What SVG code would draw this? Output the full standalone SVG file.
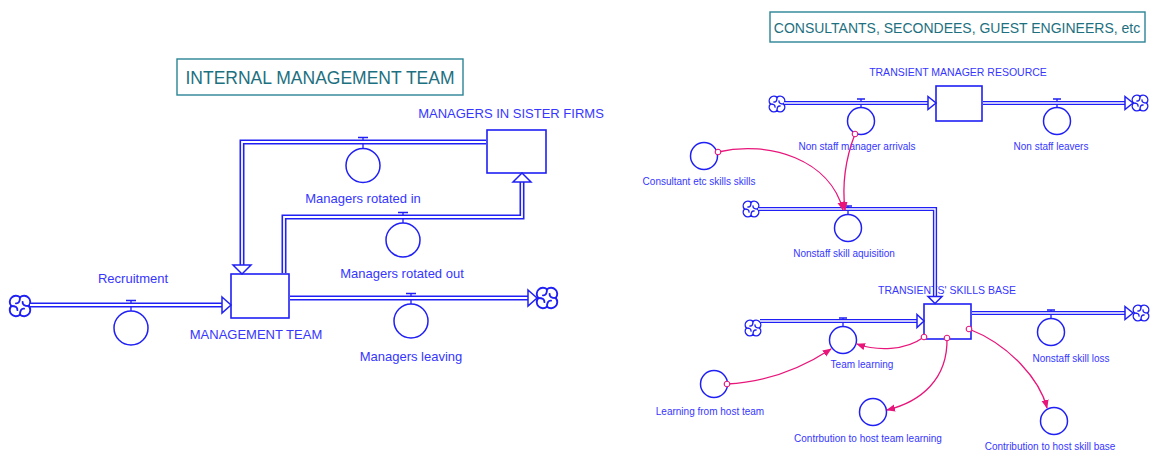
<svg xmlns="http://www.w3.org/2000/svg" xmlns:xlink="http://www.w3.org/1999/xlink" width="1152" height="453" viewBox="0 0 1152 453">
  <style>
    .lbl { font-family: "Liberation Sans", Arial, sans-serif; fill: #3636ff; text-anchor: middle; }
    .big { font-size: 13px; }
    .small { font-size: 10px; }
    .stockname { font-size: 10.5px; }
    .title { font-family: "Liberation Sans", Arial, sans-serif; fill: #1d7080; text-anchor: middle; }
    .tbox { fill: #ffffff; stroke: #2a8494; stroke-width: 1.4; }
    .stock { fill: #ffffff; stroke: #2020f4; stroke-width: 1.6; }
    .valve { fill: #ffffff; stroke: #2020f4; stroke-width: 1.5; }
    .stem { stroke: #2020f4; stroke-width: 1.3; fill: none; }
    .pipeOut { fill: none; stroke: #2020f4; stroke-width: 5; stroke-linejoin: miter; }
    .pipeIn { fill: none; stroke: #ffffff; stroke-width: 1.8; stroke-linejoin: miter; }
    .pipeOutS { fill: none; stroke: #2020f4; stroke-width: 4.2; stroke-linejoin: miter; }
    .pipeInS { fill: none; stroke: #ffffff; stroke-width: 1.4; stroke-linejoin: miter; }
    .head { fill: #ffffff; stroke: #2020f4; stroke-width: 1.5; stroke-linejoin: miter; }
    .cloud { fill: #ffffff; stroke: #2020f4; stroke-width: 1.3; stroke-linejoin: round; stroke-linecap: round; }
    .swirl { fill: none; stroke: #2020f4; stroke-width: 1.3; stroke-linecap: round; }
    .link { fill: none; stroke: #e8157a; stroke-width: 1.3; marker-start: url(#dot); marker-end: url(#arr); }
  </style>
  <defs>
    <!-- source / sink cloud: four rounded lobes with a pinwheel inside, about 15px across -->
    <g id="cloudShape">
      <path class="cloud" d="M0,-6 A4.25,4.25 0 0 1 6,0 A4.25,4.25 0 0 1 0,6 A4.25,4.25 0 0 1 -6,0 A4.25,4.25 0 0 1 0,-6 Z"/>
      <path class="swirl" d="M0,-6 Q0,-1.5 -2.8,-1.8 M6,0 Q1.5,0 1.8,-2.8 M0,6 Q0,1.5 2.8,1.8 M-6,0 Q-1.5,0 -1.8,2.8"/>
    </g>
    <marker id="arr" viewBox="0 0 10 10" refX="9" refY="5" markerWidth="9" markerHeight="9" orient="auto" markerUnits="userSpaceOnUse">
      <path d="M0,1 L10,5 L0,9 Z" fill="#e8157a"/>
    </marker>
    <marker id="dot" viewBox="-4 -4 8 8" refX="0" refY="0" markerWidth="8" markerHeight="8" markerUnits="userSpaceOnUse">
      <circle r="2.8" fill="#ffffff" stroke="#e8157a" stroke-width="1.1"/>
    </marker>
  </defs>

  <rect width="1152" height="453" fill="#ffffff"/>

  <!-- section titles -->
  <g id="title-internal">
    <rect class="tbox" x="177" y="59" width="286" height="36"/>
    <text class="title" x="320" y="84" font-size="17.5">INTERNAL MANAGEMENT TEAM</text>
  </g>
  <g id="title-consultants">
    <rect class="tbox" x="770" y="12" width="375" height="30"/>
    <text class="title" x="957" y="33" font-size="14">CONSULTANTS, SECONDEES, GUEST ENGINEERS, etc</text>
  </g>

  <!-- clouds -->
  <g id="cloud-recruitment-source"><use xlink:href="#cloudShape" transform="translate(20,306) scale(1.45)"/></g>
  <g id="cloud-leaving-sink"><use xlink:href="#cloudShape" transform="translate(547,298) scale(1.45)"/></g>
  <g id="cloud-arrivals-source"><use xlink:href="#cloudShape" transform="translate(777,104) scale(1.1)"/></g>
  <g id="cloud-leavers-sink"><use xlink:href="#cloudShape" transform="translate(1140,103) scale(1.1)"/></g>
  <g id="cloud-aquisition-source"><use xlink:href="#cloudShape" transform="translate(751,209) scale(1.1)"/></g>
  <g id="cloud-learning-source"><use xlink:href="#cloudShape" transform="translate(753,328) scale(1.1)"/></g>
  <g id="cloud-loss-sink"><use xlink:href="#cloudShape" transform="translate(1141,313) scale(1.1)"/></g>

  <!-- stocks -->
  <g id="management-team">
    <rect class="stock" x="231" y="274" width="58" height="44"/>
    <text class="lbl big" x="256" y="339">MANAGEMENT TEAM</text>
  </g>
  <g id="managers-in-sister-firms">
    <rect class="stock" x="487" y="130" width="59" height="43"/>
    <text class="lbl big" x="511" y="118">MANAGERS IN SISTER FIRMS</text>
  </g>
  <g id="transient-manager-resource">
    <rect class="stock" x="936" y="86" width="46" height="35"/>
    <text class="lbl stockname" x="958" y="76">TRANSIENT MANAGER RESOURCE</text>
  </g>
  <g id="transients-skills-base">
    <rect class="stock" x="924" y="304" width="47" height="35"/>
    <text class="lbl stockname" x="947" y="294">TRANSIENTS' SKILLS BASE</text>
  </g>

  <!-- flow valves -->
  <g id="recruitment">
    <path class="stem" d="M126,300.5 H136 M131,300.5 V311"/>
    <circle class="valve" cx="131" cy="328" r="17"/>
    <text class="lbl big" x="133" y="283">Recruitment</text>
  </g>
  <g id="managers-leaving">
    <path class="stem" d="M406,293.5 H416 M411,293.5 V304"/>
    <circle class="valve" cx="411" cy="321" r="17"/>
    <text class="lbl big" x="411" y="361">Managers leaving</text>
  </g>
  <g id="managers-rotated-in">
    <path class="stem" d="M358,137.5 H368 M363,137.5 V148"/>
    <circle class="valve" cx="363" cy="165.5" r="17"/>
    <text class="lbl big" x="363" y="203">Managers rotated in</text>
  </g>
  <g id="managers-rotated-out">
    <path class="stem" d="M398,212.5 H408 M403,212.5 V223"/>
    <circle class="valve" cx="403" cy="240" r="17"/>
    <text class="lbl big" x="402" y="278">Managers rotated out</text>
  </g>

  <g id="non-staff-manager-arrivals">
    <path class="stem" d="M857,99 H865 M861,99 V107.5"/>
    <circle class="valve" cx="861" cy="121" r="13.5"/>
    <text class="lbl small" x="857" y="150">Non staff manager arrivals</text>
  </g>
  <g id="non-staff-leavers">
    <path class="stem" d="M1053,99 H1061 M1057,99 V107.5"/>
    <circle class="valve" cx="1057" cy="121" r="13.5"/>
    <text class="lbl small" x="1051" y="150">Non staff leavers</text>
  </g>
  <g id="nonstaff-skill-aquisition">
    <path class="stem" d="M844,206 H852 M848,206 V214.5"/>
    <circle class="valve" cx="848" cy="228" r="13.5"/>
    <text class="lbl small" x="844" y="257">Nonstaff skill aquisition</text>
  </g>
  <g id="team-learning">
    <path class="stem" d="M839,318 H847 M843,318 V326.5"/>
    <circle class="valve" cx="843" cy="340" r="13.5"/>
    <text class="lbl small" x="862" y="368">Team learning</text>
  </g>
  <g id="nonstaff-skill-loss">
    <path class="stem" d="M1047,310 H1055 M1051,310 V318.5"/>
    <circle class="valve" cx="1051" cy="332" r="13.5"/>
    <text class="lbl small" x="1071" y="362">Nonstaff skill loss</text>
  </g>

  <!-- auxiliaries -->
  <g id="consultant-etc-skills">
    <circle class="valve" cx="704" cy="156" r="13.5"/>
    <text class="lbl small" x="699" y="185">Consultant etc skills skills</text>
  </g>
  <g id="learning-from-host-team">
    <circle class="valve" cx="714" cy="384" r="13.5"/>
    <text class="lbl small" x="710" y="415">Learning from host team</text>
  </g>
  <g id="contribution-to-host-team-learning">
    <circle class="valve" cx="873" cy="412" r="13.5"/>
    <text class="lbl small" x="868" y="442">Contrbution to host team learning</text>
  </g>
  <g id="contribution-to-host-skill-base">
    <circle class="valve" cx="1054" cy="421" r="13.5"/>
    <text class="lbl small" x="1050" y="450">Contribution to host skill base</text>
  </g>

  <!-- flow pipes and information links, drawn over the nodes -->
  <g id="connectors">
    <!-- Recruitment -->
    <path class="pipeOut" d="M30,305 H223"/>
    <path class="pipeIn" d="M30,305 H223"/>
    <polygon class="head" points="222,297 231,305 222,313"/>
    <!-- Managers leaving -->
    <path class="pipeOut" d="M290,298 H529"/>
    <path class="pipeIn" d="M290,298 H529"/>
    <polygon class="head" points="528,290 537,298 528,306"/>
    <!-- Managers rotated in -->
    <path class="pipeOut" d="M486,142 H242 V266"/>
    <path class="pipeIn" d="M486,142 H242 V266"/>
    <polygon class="head" points="233,265 251,265 242,274"/>
    <!-- Managers rotated out -->
    <path class="pipeOut" d="M284,273 V217 H522 V181"/>
    <path class="pipeIn" d="M284,273 V217 H522 V181"/>
    <polygon class="head" points="513,182 531,182 522,173"/>

    <!-- Non staff manager arrivals -->
    <path class="pipeOutS" d="M784,103 H929"/>
    <path class="pipeInS" d="M784,103 H929"/>
    <polygon class="head" points="928,96.5 936,103 928,109.5"/>
    <!-- Non staff leavers -->
    <path class="pipeOutS" d="M983,103 H1126"/>
    <path class="pipeInS" d="M983,103 H1126"/>
    <polygon class="head" points="1125,96.5 1133,103 1125,109.5"/>
    <!-- Nonstaff skill aquisition -->
    <path class="pipeOutS" d="M758,209 H935 V297"/>
    <path class="pipeInS" d="M758,209 H935 V297"/>
    <polygon class="head" points="928,296.5 942,296.5 935,303.5"/>
    <!-- Team learning -->
    <path class="pipeOutS" d="M760,321 H918"/>
    <path class="pipeInS" d="M760,321 H918"/>
    <polygon class="head" points="917,314.5 924,321 917,327.5"/>
    <!-- Nonstaff skill loss -->
    <path class="pipeOutS" d="M972,313 H1126"/>
    <path class="pipeInS" d="M972,313 H1126"/>
    <polygon class="head" points="1125,306.5 1133,313 1125,319.5"/>

    <!-- information links -->
    <path class="link" d="M718,152 C770,140 830,160 843,210"/>
    <path class="link" d="M855,134 C845,160 842,185 845,210"/>
    <path class="link" d="M924,337 C905,351 877,351 857,344"/>
    <path class="link" d="M727,384 C770,382 805,366 831,349"/>
    <path class="link" d="M947,338 C948,380 920,402 887,410"/>
    <path class="link" d="M969,329 C1010,345 1040,380 1047,408"/>
  </g>
</svg>
